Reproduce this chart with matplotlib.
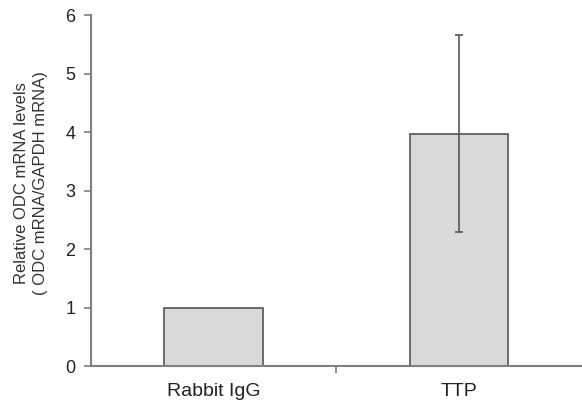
import numpy as np
import matplotlib.pyplot as plt

plt.rcParams['font.family'] = 'Liberation Sans'

categories = ['Rabbit IgG', 'TTP']
values = [1.0, 3.97]
errors = [0.0, 1.68]

fig = plt.figure(figsize=(5.82, 4.07), dpi=100)
ax = fig.add_axes([0.156, 0.1007, 0.844, 0.8624])

x = np.arange(len(categories))
ax.bar(x, values, width=0.4, color='#d9d9d9', edgecolor='#555555', linewidth=1.2, zorder=2)
ax.errorbar(x[1:], values[1:], yerr=errors[1:], fmt='none', ecolor='#555555',
            elinewidth=1.2, capsize=3, capthick=1.2, zorder=3)

ax.set_xlim(-0.5, 1.5)
ax.set_ylim(0, 6)
ax.set_yticks(range(0, 7))
ax.set_xticks(x)
ax.set_xticklabels(categories, fontsize=14, color='#222222')
ax.set_xticks([0.5], minor=True)
ax.tick_params(axis='x', which='major', length=0, pad=12)
ax.tick_params(axis='x', which='minor', length=5, width=1.2, color='#808080', direction='out')
ax.tick_params(axis='y', length=5, width=1.2, color='#808080', labelsize=13,
               labelcolor='#222222', direction='out', pad=6)

for s in ['top', 'right']:
    ax.spines[s].set_visible(False)
for s in ['left', 'bottom']:
    ax.spines[s].set_color('#808080')
    ax.spines[s].set_linewidth(1.5)

ax.set_ylabel('Relative ODC mRNA levels\n( ODC mRNA/GAPDH mRNA)', fontsize=12,
              color='#333333', linespacing=1.3)
ax.yaxis.set_label_coords(-0.088, 0.52)

fig.savefig('out.png', dpi=100)
